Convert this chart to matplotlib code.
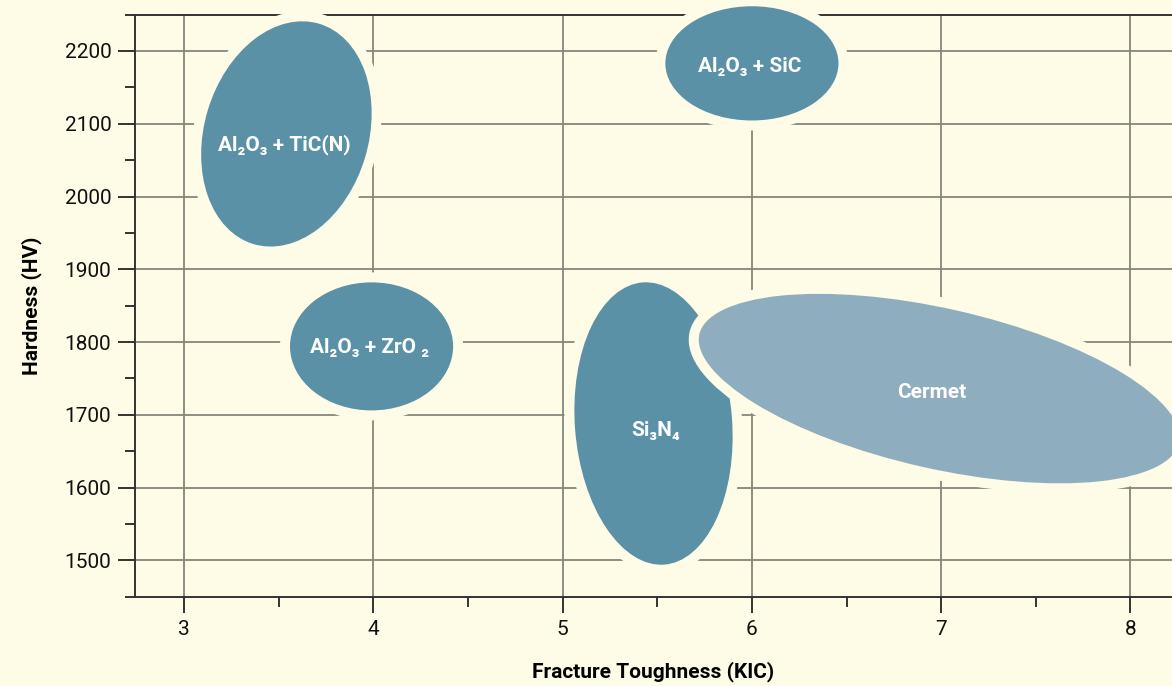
### Libraries ###
import numpy as np
import matplotlib
matplotlib.use('Agg')
import matplotlib.pyplot as plt
from matplotlib.patches import Ellipse
from matplotlib.transforms import ScaledTranslation

plt.rcParams['font.family'] = ['Roboto', 'DejaVu Sans']

### Data ###
materials = ['Al₂O₃ + TiC(N)', 'Al₂O₃ + SiC', 'Al₂O₃ + ZrO ₂', 'Si₃N₄', 'Cermet']
center_kic = [3.54, 6.00, 3.99, 5.48, 6.99]          # fracture toughness centre
center_hv = [2086, 2183, 1794, 1688, 1736]           # hardness centre
span_kic = [0.868, 0.915, 0.862, 0.831, 2.60]        # ellipse width (KIC units)
span_hv = [316, 157, 176, 389, 220]                  # ellipse height (HV units)
tilt = [-16.6, 0, 0, 4.4, -12.75]                    # visual tilt, degrees
label_kic = [3.53, 5.99, 3.98, 5.49, 6.95]
label_hv = [2071, 2179, 1793, 1679, 1731]
fills = ['#5a91a7', '#5a91a7', '#5a91a7', '#5a91a7', '#8eaebf']

bg = '#fefbe6'

### Figure ###
fig = plt.figure(figsize=(11.72, 6.86), dpi=100, facecolor=bg)
ax = fig.add_axes([0.1152, 0.1302, 0.8848, 0.8485], facecolor=bg)
ax.set_xlim(2.74, 8.22)
ax.set_ylim(1450, 2250)

ax.set_xticks([3, 4, 5, 6, 7, 8])
ax.set_xticks(np.arange(3.5, 8.0, 1.0), minor=True)
ax.set_yticks(np.arange(1500, 2201, 100))
ax.set_yticks(np.arange(1450, 2251, 50), minor=True)

ax.grid(True, which='major', color='#86867c', linewidth=1.3, zorder=0)
ax.set_axisbelow(True)

for s in ['left', 'bottom', 'top']:
    ax.spines[s].set_color('#333333')
    ax.spines[s].set_linewidth(1.4)
ax.spines['right'].set_visible(False)

ax.tick_params(axis='y', which='major', length=12, width=1.4, color='#333333',
               labelsize=15, pad=5, labelcolor='#111111')
ax.tick_params(axis='y', which='minor', length=7, width=1.4, color='#333333')
ax.tick_params(axis='x', which='major', length=11.5, width=1.4, color='#333333',
               labelsize=15, pad=5, labelcolor='#111111')
ax.tick_params(axis='x', which='minor', length=7.5, width=1.4, color='#333333')

ax.set_xlabel('Fracture Toughness (KIC)', fontsize=15, fontweight='bold', labelpad=16)
ax.set_ylabel('Hardness (HV)', fontsize=15, fontweight='bold', labelpad=16)

### Ellipses (sized in data units, rotated in screen space) ###
px_x = ax.transData.transform((1, 0))[0] - ax.transData.transform((0, 0))[0]
px_y = ax.transData.transform((0, 1))[1] - ax.transData.transform((0, 0))[1]
edge_px = 10
for i in range(len(materials)):
    w = span_kic[i] * px_x + edge_px
    h = span_hv[i] * px_y + edge_px
    e = Ellipse((0, 0), w, h, angle=tilt[i],
                transform=ScaledTranslation(center_kic[i], center_hv[i], ax.transData),
                facecolor=fills[i], edgecolor=bg, linewidth=edge_px * 72 / fig.dpi,
                zorder=3 + i, clip_on=False)
    ax.add_patch(e)
    ax.text(label_kic[i], label_hv[i], materials[i], color='white', fontsize=15,
            fontweight='bold', ha='center', va='center', zorder=10,
            family=['Roboto', 'DejaVu Sans'])

fig.savefig('out.png', dpi=100, facecolor=bg)
